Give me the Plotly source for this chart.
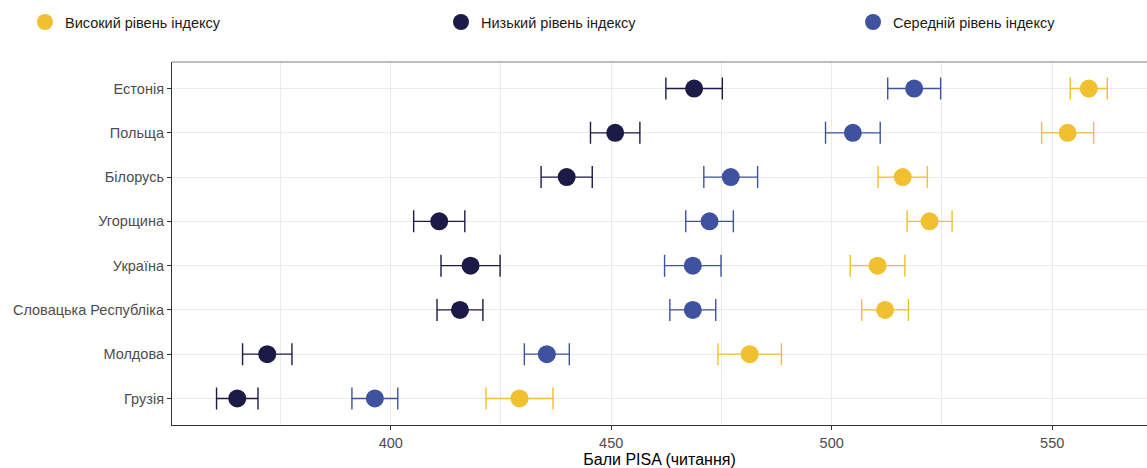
import plotly.graph_objects as go

# Countries, top to bottom
countries = ["Естонія", "Польща", "Білорусь", "Угорщина", "Україна",
             "Словацька Республіка", "Молдова", "Грузія"]

# Mean PISA reading scores by index level, with half-width of the interval
high_mean = [558.3, 553.5, 516.1, 522.2, 510.4, 512.1, 481.4, 429.2]
high_err = [4.2, 5.9, 5.6, 5.1, 6.2, 5.3, 7.2, 7.6]

low_mean = [468.8, 450.9, 439.9, 411.0, 418.1, 415.7, 372.0, 365.2]
low_err = [6.4, 5.6, 5.8, 5.8, 6.7, 5.2, 5.6, 4.7]

mid_mean = [518.7, 504.8, 477.1, 472.3, 468.5, 468.5, 435.4, 396.4]
mid_err = [6.0, 6.2, 6.1, 5.4, 6.4, 5.2, 5.1, 5.2]

series = [
    ("Високий рівень індексу", high_mean, high_err, "#F0C030", "legend"),
    ("Низький рівень індексу", low_mean, low_err, "#1C1B47", "legend2"),
    ("Середній рівень індексу", mid_mean, mid_err, "#3F52A0", "legend3"),
]

x_ticks = [400, 450, 500, 550]
x_title = "Бали PISA (читання)"

fig = go.Figure()
for name, means, errs, color, leg in series:
    fig.add_trace(go.Scatter(
        x=means, y=countries, name=name, mode="markers", legend=leg,
        marker=dict(color=color, size=18, line=dict(width=0)),
        error_x=dict(type="data", array=errs, visible=True,
                     color=color, thickness=1.4, width=11),
    ))

FONT = "Liberation Sans, Arial, sans-serif"


def legend_at(x):
    return dict(
        orientation="h", x=x, xanchor="left", y=1.11, yanchor="middle",
        font=dict(family=FONT, size=14.5, color="#1A1A1A"),
        bgcolor="rgba(0,0,0,0)",
        itemclick=False, itemdoubleclick=False,
    )


fig.update_layout(
    width=1147, height=468,
    margin=dict(l=172, r=0, t=62, b=43),
    plot_bgcolor="white", paper_bgcolor="white",
    font=dict(family=FONT, size=14.5, color="#4D4D4D"),
    showlegend=True,
    legend=legend_at(-0.1508),
    legend2=legend_at(0.2759),
    legend3=legend_at(0.6985),
    xaxis=dict(
        range=[350.4, 571.5], tickvals=x_ticks, ticktext=[str(v) for v in x_ticks],
        showgrid=True, gridcolor="#EBEBEB", gridwidth=1,
        minor=dict(dtick=25, tick0=0, showgrid=True, gridcolor="#EBEBEB", gridwidth=1),
        showline=True, linecolor="#333333", linewidth=1.2,
        ticks="outside", ticklen=4, tickcolor="#333333",
        tickfont=dict(size=14.5, color="#4D4D4D"),
        title=dict(text=x_title, font=dict(size=16, color="#000000"), standoff=4),
        zeroline=False,
    ),
    yaxis=dict(
        type="category", categoryorder="array", categoryarray=countries,
        range=[7.6, -0.6],
        showgrid=True, gridcolor="#EBEBEB", gridwidth=1,
        showline=True, linecolor="#333333", linewidth=1.2,
        ticks="outside", ticklen=4, tickcolor="#333333",
        tickfont=dict(size=14.5, color="#4D4D4D"),
        zeroline=False,
    ),
    shapes=[dict(type="line", xref="paper", yref="paper", x0=0, x1=1, y0=1, y1=1,
                 line=dict(color="#7F7F7F", width=1.2))],
)

fig.write_html("out.html")
